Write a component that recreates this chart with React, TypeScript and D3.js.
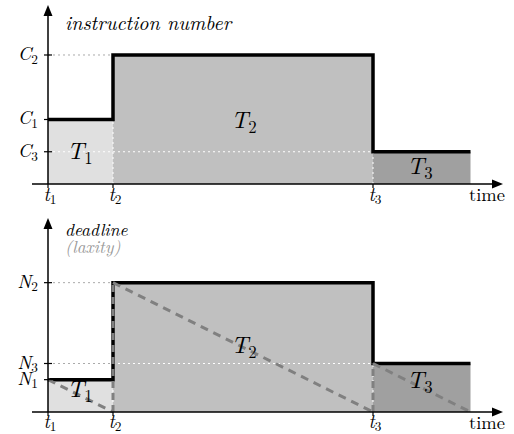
import React from "react";
import * as d3 from "d3";

// task boundaries on the time axis (t1, t2, t3, end of T3)
const times = [0, 1, 5, 6.5];
const timeLabels = ["1", "2", "3"];
const taskLabels = ["1", "2", "3"];
// instruction numbers C1, C2, C3
const instructions = [2, 4, 1];
// deadlines N1, N2, N3
const deadlines = [1, 4, 1.5];
const fills = ["#e0e0e0", "#c0c0c0", "#a0a0a0"];

const FONT = "Latin Modern Roman, Liberation Serif, serif";

const x = d3.scaleLinear().domain([0, 7]).range([48, 503]);

type PanelProps = {
  values: number[];
  letter: string;
  y: d3.ScaleLinear<number, number>;
  top: number;
  laxity: boolean;
  taskPos: [number, number][];
  tickDy: number;
};

function Sub({ base, sub, x0, y0, size, anchor, subDy }: { base: string; sub: string; x0: number; y0: number; size: number; anchor?: string; subDy?: number }) {
  return (
    <text x={x0} y={y0} style={{ fontFamily: FONT }} fontSize={size} textAnchor={anchor || "start"} fill="#000">
      <tspan fontStyle="italic">{base}</tspan>
      <tspan fontSize={size * 0.7} dy={size * (subDy ?? 0.2)}>{sub}</tspan>
    </text>
  );
}

function Panel({ values, letter, y, top, laxity, taskPos, tickDy }: PanelProps) {
  const base = y(0);
  const step = d3.line<[number, number]>().x((d) => x(d[0])).y((d) => y(d[1])).curve(d3.curveStepAfter);
  const stepPts: [number, number][] = values.map((v, i) => [times[i], v] as [number, number]);
  stepPts.push([times[3], values[2]]);
  const maxLeft = values[0];

  // dotted guides: gray over white, white over filled area
  const guides: { x1: number; x2: number; v: number; c: string }[] = [];
  values.forEach((v, i) => {
    if (i === 0) return;
    const xEnd = times[i];
    if (v > maxLeft) {
      guides.push({ x1: times[0], x2: times[1], v, c: "#aaa" });
      if (i === 2) guides.push({ x1: times[1], x2: xEnd, v, c: "#fff" });
    } else {
      guides.push({ x1: times[0], x2: xEnd, v, c: "#fff" });
    }
  });

  return (
    <g>
      {values.map((v, i) => (
        <rect key={i} x={x(times[i])} y={y(v)} width={x(times[i + 1]) - x(times[i])} height={base - y(v)} fill={fills[i]} />
      ))}
      {guides.map((g, i) => (
        <line key={i} x1={x(g.x1)} x2={x(g.x2)} y1={y(g.v)} y2={y(g.v)} stroke={g.c} strokeWidth={1} strokeDasharray="2,3" />
      ))}
      <line x1={x(times[1])} x2={x(times[1])} y1={base} y2={y(values[0])} stroke="#fff" strokeWidth={1} strokeDasharray="2,3" />
      <line x1={x(times[2])} x2={x(times[2])} y1={base} y2={y(values[2])} stroke="#fff" strokeWidth={1} strokeDasharray="2,3" />
      <path d={step(stepPts) || ""} fill="none" stroke="#000" strokeWidth={3.5} />
      {laxity &&
        values.map((v, i) => (
          <g key={i}>
            <line x1={x(times[i])} y1={y(v)} x2={x(times[i + 1])} y2={base} stroke="#808080" strokeWidth={3} strokeDasharray="8,6" />
            {i > 0 && (
              <line x1={x(times[i])} y1={base} x2={x(times[i])} y2={y(v)} stroke="#808080" strokeWidth={3} strokeDasharray="7,5" />
            )}
          </g>
        ))}
      {/* axes */}
      <line x1={32} x2={495} y1={base} y2={base} stroke="#000" strokeWidth={1.5} />
      <path d={`M503,${base} L492,${base - 4.5} L492,${base + 4.5} Z`} fill="#000" />
      <line x1={x(0)} x2={x(0)} y1={base} y2={top + 8} stroke="#000" strokeWidth={1.5} />
      <path d={`M${x(0)},${top} L${x(0) - 4.5},${top + 11} L${x(0) + 4.5},${top + 11} Z`} fill="#000" />
      {values.map((v, i) => (
        <g key={i}>
          <line x1={x(0) - 4} x2={x(0) + 4} y1={y(v)} y2={y(v)} stroke="#000" strokeWidth={1.2} />
          <Sub base={letter} sub={String(i + 1)} x0={38} y0={y(v) + 5} size={19} anchor="end" />
        </g>
      ))}
      {times.slice(0, 3).map((t, i) => (
        <g key={i}>
          <line x1={x(t)} x2={x(t)} y1={base} y2={base + 4} stroke="#000" strokeWidth={1.2} />
          <Sub base="t" sub={timeLabels[i]} x0={x(t) + 2} y0={base + tickDy} size={19} anchor="middle" subDy={0.15} />
        </g>
      ))}
      <text x={469} y={base + 17} style={{ fontFamily: FONT }} fontSize={18.5}>time</text>
      {taskPos.map((p, i) => (
        <Sub key={i} base="T" sub={taskLabels[i]} x0={p[0]} y0={p[1]} size={24} />
      ))}
    </g>
  );
}

export default function App() {
  const yTop = d3.scaleLinear().domain([0, 5.55]).range([184, 5]);
  const yBot = d3.scaleLinear().domain([0, 6]).range([412, 218]);
  return (
    <svg width={514} height={434} style={{ display: "block", position: "absolute", left: 0, top: 0 }}>
      <rect width={514} height={434} fill="#fff" />
      <Panel values={instructions} letter="C" y={yTop} top={5} laxity={false} tickDy={17}
        taskPos={[[67, 159], [231, 128], [407, 174]]} />
      <Panel values={deadlines} letter="N" y={yBot} top={218} laxity={true} tickDy={16}
        taskPos={[[67, 397], [231, 353], [407, 388]]} />
      <text x={65} y={30} style={{ fontFamily: FONT }} fontSize={20} fontStyle="italic">instruction number</text>
      <text x={65} y={236} style={{ fontFamily: FONT }} fontSize={17.5} fontStyle="italic">deadline</text>
      <text x={65} y={253} style={{ fontFamily: FONT }} fontSize={17.5} fontStyle="italic" fill="#999">(laxity)</text>
    </svg>
  );
}
